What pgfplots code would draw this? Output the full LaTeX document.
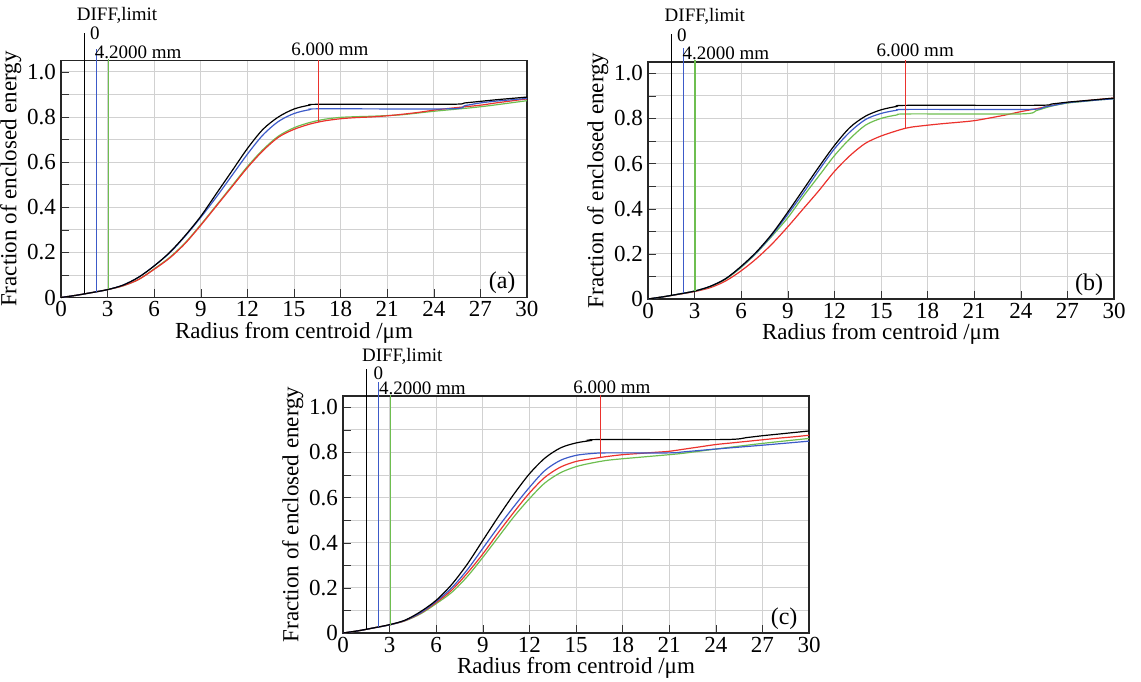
\documentclass[border=0pt]{standalone}
\usepackage{fontspec}
\setmainfont{Liberation Serif}
\usepackage{pgfplots}
\pgfplotsset{compat=1.18}
\definecolor{cblue}{RGB}{60,90,200}
\definecolor{cgreen}{RGB}{110,190,80}
\definecolor{cred}{RGB}{235,50,45}

\pgfplotsset{
  ee/.style={
    width=233pt, height=118.5pt, scale only axis,
    xmin=0, xmax=30, ymin=0, ymax=1.05,
    xtick={0,3,...,30},
    ytick={0,0.2,0.4,0.6,0.8,1.0},
    yticklabels={0,0.2,0.4,0.6,0.8,1.0},
    minor ytick={0.1,0.3,0.5,0.7,0.9},
    grid=both,
    major grid style={black!18},
    minor grid style={black!18},
    tick align=inside, tick pos=left,
    major tick length=4pt, minor tick length=4pt,
    tick style={black!80},
    axis line style={black!85, line width=0.7pt},
    clip=false,
    font=\fontsize{9.5}{10}\selectfont,
    tick label style={font=\fontsize{11.5}{12}\selectfont},
    xticklabel style={yshift=1.5pt},
    yticklabel style={xshift=1pt},
    /pgf/number format/assume math mode=true,
    xlabel={Radius from centroid /μm},
    ylabel={Fraction of enclosed energy},
    label style={font=\fontsize{11.5}{12}\selectfont},
    xlabel style={yshift=4.5pt},
    ylabel style={yshift=-4pt},
    every axis plot/.append style={line width=0.6pt, mark=none},
    crv/.style={smooth, tension=0.5},
    mk/.style={line width=0.6pt},
  },
}

\begin{document}
\begin{tikzpicture}[x=1pt,y=1pt]
\path[use as bounding box] (0,0) rectangle (570.5,340.5);

% ---------------- (a)
\begin{axis}[ee, at={(30.5pt,191.75pt)}, anchor=south west]
\addplot[cgreen,crv] coordinates {(0,0)(1,0.01)(2,0.022)(3,0.035)(4,0.052)(5,0.08)(6,0.127)(7,0.178)(8,0.243)(9,0.323)(10,0.408)(11,0.494)(12,0.58)(13,0.655)(14,0.715)(15,0.752)(16,0.775)(17,0.79)(18,0.798)(19,0.801)(20,0.803)(21,0.806)(22,0.81)(24,0.825)(27,0.845)(30,0.872)};
\addplot[cred,crv] coordinates {(0,0)(1,0.01)(2,0.022)(3,0.035)(4,0.052)(5,0.08)(6,0.125)(7,0.175)(8,0.24)(9,0.32)(10,0.405)(11,0.49)(12,0.575)(13,0.65)(14,0.71)(15,0.745)(16,0.768)(16.5,0.776)(17,0.783)(18,0.792)(19,0.797)(20,0.8)(21,0.805)(22,0.812)(23,0.82)(24,0.83)(25,0.838)(26,0.845)(27,0.852)(28,0.862)(29,0.871)(30,0.88)};
\addplot[cblue,crv] coordinates {(0,0)(1,0.01)(2,0.022)(3,0.035)(4,0.055)(5,0.09)(6,0.14)(7,0.198)(8,0.272)(9,0.355)(10,0.445)(11,0.54)(12,0.635)(13,0.72)(14,0.78)(15,0.815)(16,0.832)(16.8,0.836)(25,0.836)(26,0.85)(27,0.862)(28,0.87)(29,0.876)(30,0.882)};
\addplot[black,crv] coordinates {(0,0)(1,0.01)(2,0.022)(3,0.035)(4,0.055)(5,0.09)(6,0.14)(7,0.2)(8,0.275)(9,0.36)(10,0.46)(11,0.56)(12,0.66)(13,0.745)(14,0.8)(15,0.835)(16,0.852)(16.8,0.856)(25,0.856)(26,0.862)(27,0.869)(28,0.876)(29,0.882)(30,0.888)};
% reference markers
\addplot[black,mk] coordinates {(1.5,0.015)(1.5,1.17)};
\addplot[cblue,mk] coordinates {(2.3,0.026)(2.3,1.10)};
\addplot[cgreen,mk] coordinates {(3.05,0.036)(3.05,1.057)};
\addplot[cred,mk] coordinates {(16.6,0.777)(16.6,1.053)};
\node[anchor=west,inner sep=0pt] at (axis cs:1.0,1.25) {DIFF,limit};
\node[anchor=west,inner sep=0pt] at (axis cs:1.85,1.17) {0};
\node[anchor=west,inner sep=0pt] at (axis cs:2.15,1.085) {4.2000 mm};
\node[anchor=west,inner sep=0pt] at (axis cs:14.8,1.10) {6.000 mm};
\node[font=\fontsize{12}{13}\selectfont] at (axis cs:28.4,0.065) {(a)};
\end{axis}

% ---------------- (b)
\begin{axis}[ee, at={(324pt,191pt)}, anchor=south west]
\addplot[cred,crv] coordinates {(0,0)(1,0.01)(2,0.021)(3,0.033)(4,0.05)(5,0.08)(6,0.125)(7,0.18)(8,0.245)(9,0.32)(10,0.4)(11,0.48)(12,0.565)(13,0.635)(14,0.69)(15,0.722)(16,0.745)(16.5,0.755)(17,0.762)(18,0.77)(19,0.777)(20,0.783)(21,0.79)(22,0.802)(23,0.815)(24,0.83)(25,0.843)(26,0.857)(27,0.87)(28,0.877)(29,0.884)(30,0.89)};
\addplot[cgreen,crv] coordinates {(0,0)(1,0.01)(2,0.022)(3,0.035)(4,0.055)(5,0.088)(6,0.14)(7,0.205)(8,0.28)(9,0.36)(10,0.455)(11,0.545)(12,0.635)(13,0.71)(14,0.77)(15,0.8)(16,0.815)(16.8,0.82)(24,0.82)(25,0.835)(26,0.855)(27,0.868)(28,0.875)(29,0.882)(30,0.887)};
\addplot[cblue,crv] coordinates {(0,0)(1,0.01)(2,0.022)(3,0.035)(4,0.056)(5,0.09)(6,0.143)(7,0.207)(8,0.285)(9,0.375)(10,0.47)(11,0.57)(12,0.665)(13,0.74)(14,0.795)(15,0.822)(16,0.836)(16.8,0.84)(24.5,0.84)(25.5,0.85)(26.5,0.863)(27,0.87)(28,0.876)(29,0.882)(30,0.887)};
\addplot[black,crv] coordinates {(0,0)(1,0.01)(2,0.022)(3,0.035)(4,0.056)(5,0.09)(6,0.145)(7,0.21)(8,0.29)(9,0.385)(10,0.485)(11,0.585)(12,0.68)(13,0.76)(14,0.81)(15,0.838)(16,0.853)(16.8,0.858)(25,0.858)(26,0.864)(27,0.872)(28,0.878)(29,0.884)(30,0.89)};
\addplot[black,mk] coordinates {(1.5,0.015)(1.5,1.176)};
\addplot[cblue,mk] coordinates {(2.28,0.026)(2.28,1.11)};
\addplot[cgreen,mk] coordinates {(3.03,0.036)(3.03,1.06)};
\addplot[cred,mk] coordinates {(16.6,0.756)(16.6,1.06)};
\node[anchor=west,inner sep=0pt] at (axis cs:1.05,1.25) {DIFF,limit};
\node[anchor=west,inner sep=0pt] at (axis cs:1.85,1.17) {0};
\node[anchor=west,inner sep=0pt] at (axis cs:2.2,1.09) {4.2000 mm};
\node[anchor=west,inner sep=0pt] at (axis cs:14.7,1.10) {6.000 mm};
\node[font=\fontsize{12}{13}\selectfont] at (axis cs:28.4,0.065) {(b)};
\end{axis}

% ---------------- (c)
\begin{axis}[ee, at={(171.5pt,24pt)}, anchor=south west]
\addplot[cgreen,crv] coordinates {(0,0)(1,0.01)(2,0.023)(3,0.036)(4,0.054)(5,0.085)(6,0.13)(7,0.18)(8,0.25)(9,0.335)(10,0.425)(11,0.515)(12,0.595)(13,0.665)(14,0.71)(15,0.737)(16,0.753)(17,0.765)(18,0.772)(19,0.778)(20,0.784)(21,0.79)(22,0.797)(24,0.815)(27,0.84)(30,0.862)};
\addplot[cred,crv] coordinates {(0,0)(1,0.01)(2,0.023)(3,0.036)(4,0.055)(5,0.088)(6,0.135)(7,0.19)(8,0.265)(9,0.35)(10,0.445)(11,0.535)(12,0.62)(13,0.69)(14,0.735)(15,0.76)(16,0.772)(16.5,0.777)(17,0.782)(18,0.79)(19,0.795)(20,0.8)(21,0.805)(22,0.815)(23,0.825)(24,0.835)(25,0.842)(26,0.849)(27,0.856)(28,0.863)(29,0.869)(30,0.876)};
\addplot[cblue,crv] coordinates {(0,0)(1,0.01)(2,0.023)(3,0.036)(4,0.056)(5,0.09)(6,0.14)(7,0.2)(8,0.28)(9,0.375)(10,0.47)(11,0.56)(12,0.645)(13,0.72)(14,0.765)(15,0.787)(16,0.795)(17,0.798)(21,0.798)(22,0.803)(24,0.815)(27,0.832)(30,0.85)};
\addplot[black,crv] coordinates {(0,0)(1,0.01)(2,0.023)(3,0.037)(4,0.057)(5,0.095)(6,0.145)(7,0.215)(8,0.305)(9,0.41)(10,0.515)(11,0.615)(12,0.705)(13,0.775)(14,0.82)(15,0.842)(16,0.853)(16.5,0.857)(24.5,0.857)(26,0.866)(27,0.874)(28,0.881)(29,0.888)(30,0.895)};
\addplot[black,mk] coordinates {(1.5,0.015)(1.5,1.17)};
\addplot[cblue,mk] coordinates {(2.3,0.026)(2.3,1.11)};
\addplot[cgreen,mk] coordinates {(3.05,0.036)(3.05,1.054)};
\addplot[cred,mk] coordinates {(16.6,0.778)(16.6,1.054)};
\node[anchor=west,inner sep=0pt] at (axis cs:1.2,1.225) {DIFF,limit};
\node[anchor=west,inner sep=0pt] at (axis cs:1.95,1.152) {0};
\node[anchor=west,inner sep=0pt] at (axis cs:2.3,1.083) {4.2000 mm};
\node[anchor=west,inner sep=0pt] at (axis cs:14.8,1.09) {6.000 mm};
\node[font=\fontsize{12}{13}\selectfont] at (axis cs:28.4,0.065) {(c)};
\end{axis}
\end{tikzpicture}
\end{document}
